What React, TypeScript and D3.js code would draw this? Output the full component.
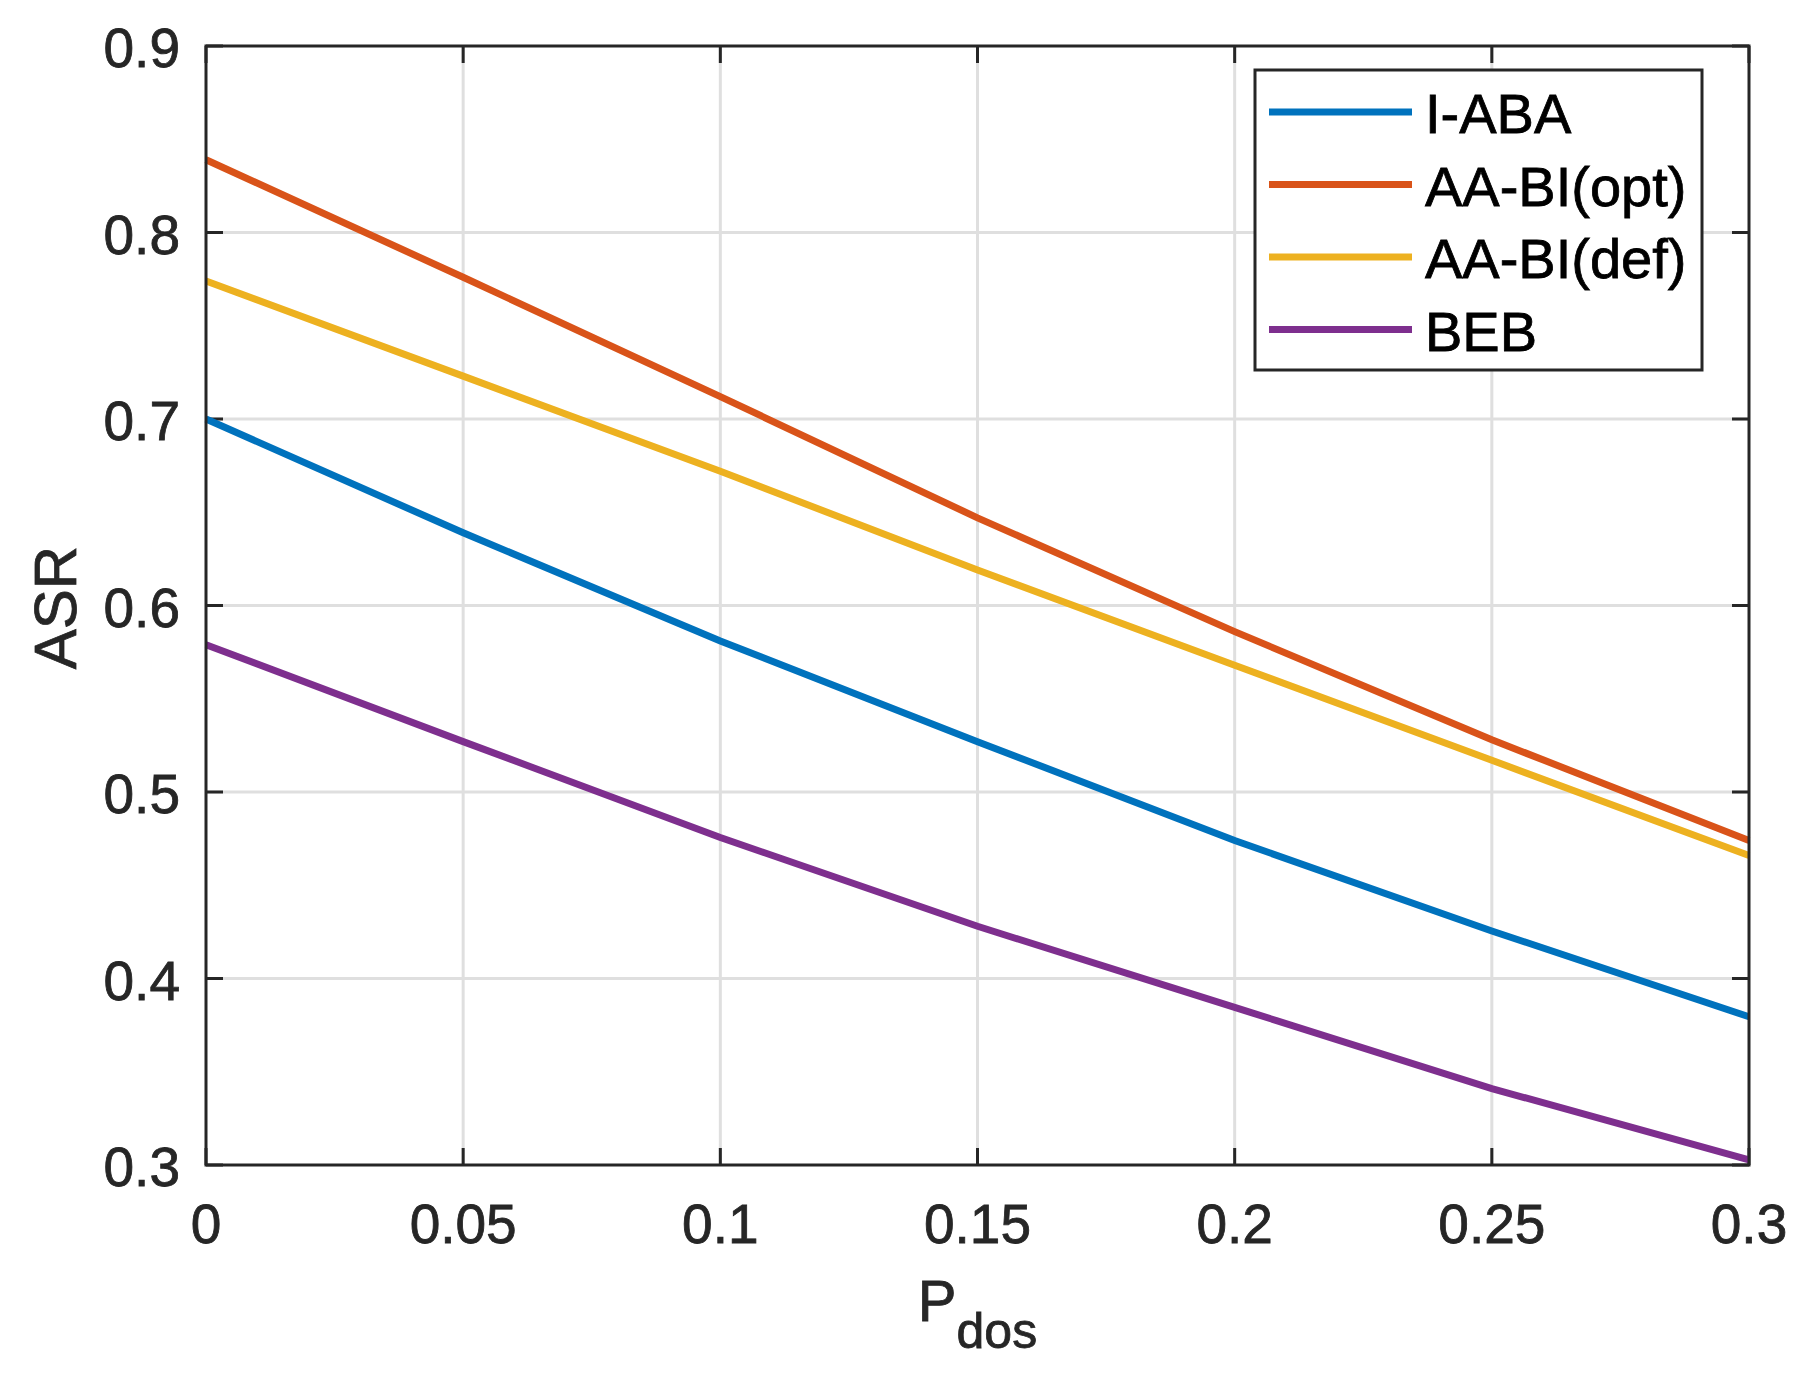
import React, { useEffect, useRef } from "react";
import * as d3 from "d3";

// P_dos values along the x axis
const pDos = [0, 0.05, 0.1, 0.15, 0.2, 0.25, 0.3];

// ASR per method
const iAba = [0.7, 0.639, 0.581, 0.527, 0.474, 0.4255, 0.3795];
const aaBiOpt = [0.839, 0.776, 0.712, 0.647, 0.586, 0.528, 0.474];
const aaBiDef = [0.774, 0.723, 0.672, 0.619, 0.568, 0.517, 0.466];
const beb = [0.579, 0.527, 0.4756, 0.428, 0.3845, 0.341, 0.3027];

const seriesNames = ["I-ABA", "AA-BI(opt)", "AA-BI(def)", "BEB"];
const seriesColors = ["#0072BD", "#D95319", "#EDB120", "#7E2F8E"];

const xTicks = [0, 0.05, 0.1, 0.15, 0.2, 0.25, 0.3];
const xTickLabels = ["0", "0.05", "0.1", "0.15", "0.2", "0.25", "0.3"];
const yTicks = [0.3, 0.4, 0.5, 0.6, 0.7, 0.8, 0.9];
const yTickLabels = ["0.3", "0.4", "0.5", "0.6", "0.7", "0.8", "0.9"];

const App = () => {
  const svgRef = useRef<SVGSVGElement>(null);

  useEffect(() => {
    document.body.style.margin = "0";

    const width = 1812;
    const height = 1375;
    const marginLeft = 206;
    const marginRight = 63;
    const marginTop = 46;
    const marginBottom = 210;
    const axisColor = "#262626";
    const font = "'Liberation Sans', Arial, sans-serif";
    const tickLen = 17;

    const svg = d3
      .select(svgRef.current)
      .attr("width", width)
      .attr("height", height)
      .style("font-family", font);
    svg.selectAll("*").remove();

    const x = d3
      .scaleLinear()
      .domain([0, 0.3])
      .range([marginLeft, width - marginRight]);

    const y = d3
      .scaleLinear()
      .domain([0.3, 0.9])
      .range([height - marginBottom, marginTop]);

    const x0 = x.range()[0];
    const x1 = x.range()[1];
    const y0 = y.range()[0];
    const y1 = y.range()[1];

    svg.append("rect").attr("width", width).attr("height", height).attr("fill", "#fff");

    // grid lines
    const grid = svg.append("g").attr("stroke", "#dfdfdf").attr("stroke-width", 3);
    xTicks.slice(1, -1).forEach((t) => {
      grid.append("line").attr("x1", x(t)).attr("x2", x(t)).attr("y1", y1).attr("y2", y0);
    });
    yTicks.slice(1, -1).forEach((t) => {
      grid.append("line").attr("x1", x0).attr("x2", x1).attr("y1", y(t)).attr("y2", y(t));
    });

    // tick marks on all four sides
    const ticks = svg.append("g").attr("stroke", axisColor).attr("stroke-width", 3);
    xTicks.forEach((t) => {
      ticks.append("line").attr("x1", x(t)).attr("x2", x(t)).attr("y1", y0).attr("y2", y0 - tickLen);
      ticks.append("line").attr("x1", x(t)).attr("x2", x(t)).attr("y1", y1).attr("y2", y1 + tickLen);
    });
    yTicks.forEach((t) => {
      ticks.append("line").attr("x1", x0).attr("x2", x0 + tickLen).attr("y1", y(t)).attr("y2", y(t));
      ticks.append("line").attr("x1", x1).attr("x2", x1 - tickLen).attr("y1", y(t)).attr("y2", y(t));
    });

    // data lines
    const allSeries = [iAba, aaBiOpt, aaBiDef, beb];
    const line = d3
      .line<number>()
      .x((_, i) => x(pDos[i]))
      .y((d) => y(d));

    allSeries.forEach((s, i) => {
      svg
        .append("path")
        .datum(s)
        .attr("fill", "none")
        .attr("stroke", seriesColors[i])
        .attr("stroke-width", 7)
        .attr("d", line);
    });

    // axes box
    svg
      .append("rect")
      .attr("x", x0)
      .attr("y", y1)
      .attr("width", x1 - x0)
      .attr("height", y0 - y1)
      .attr("fill", "none")
      .attr("stroke", axisColor)
      .attr("stroke-width", 3);

    // tick labels
    xTicks.forEach((t, i) => {
      svg
        .append("text")
        .attr("x", x(t))
        .attr("y", y0 + 78)
        .attr("text-anchor", "middle")
        .attr("fill", axisColor)
        .attr("stroke", axisColor)
        .attr("stroke-width", 0.8)
        .style("font-size", "55px")
        .text(xTickLabels[i]);
    });
    yTicks.forEach((t, i) => {
      svg
        .append("text")
        .attr("x", x0 - 26)
        .attr("y", y(t) + 21)
        .attr("text-anchor", "end")
        .attr("fill", axisColor)
        .attr("stroke", axisColor)
        .attr("stroke-width", 0.8)
        .style("font-size", "55px")
        .text(yTickLabels[i]);
    });

    // x-axis label P_dos
    const xl = svg
      .append("text")
      .attr("x", (x0 + x1) / 2)
      .attr("y", 1321)
      .attr("text-anchor", "middle")
      .attr("fill", axisColor)
      .attr("stroke", axisColor)
      .attr("stroke-width", 0.8)
      .style("font-size", "58px");
    xl.append("tspan").text("P");
    xl.append("tspan").attr("dy", 27).style("font-size", "50px").text("dos");

    // y-axis label
    svg
      .append("text")
      .attr("transform", `translate(76, ${(y0 + y1) / 2 + 2}) rotate(-90)`)
      .attr("text-anchor", "middle")
      .attr("fill", axisColor)
      .attr("stroke", axisColor)
      .attr("stroke-width", 0.8)
      .style("font-size", "60px")
      .text("ASR");

    // legend
    const legend = svg.append("g");
    legend
      .append("rect")
      .attr("x", 1255)
      .attr("y", 70)
      .attr("width", 447)
      .attr("height", 300)
      .attr("fill", "#fff")
      .attr("stroke", axisColor)
      .attr("stroke-width", 3);
    seriesNames.forEach((name, i) => {
      const ly = 112 + i * 72.5;
      legend
        .append("line")
        .attr("x1", 1269)
        .attr("x2", 1412)
        .attr("y1", ly)
        .attr("y2", ly)
        .attr("stroke", seriesColors[i])
        .attr("stroke-width", 7);
      legend
        .append("text")
        .attr("x", 1425)
        .attr("y", ly + 21)
        .attr("fill", "#000")
        .attr("stroke", "#000")
        .attr("stroke-width", 0.8)
        .style("font-size", "56px")
        .text(name);
    });
  }, []);

  return (
    <div>
      <svg ref={svgRef} style={{ display: "block" }}></svg>
    </div>
  );
};

export default App;
